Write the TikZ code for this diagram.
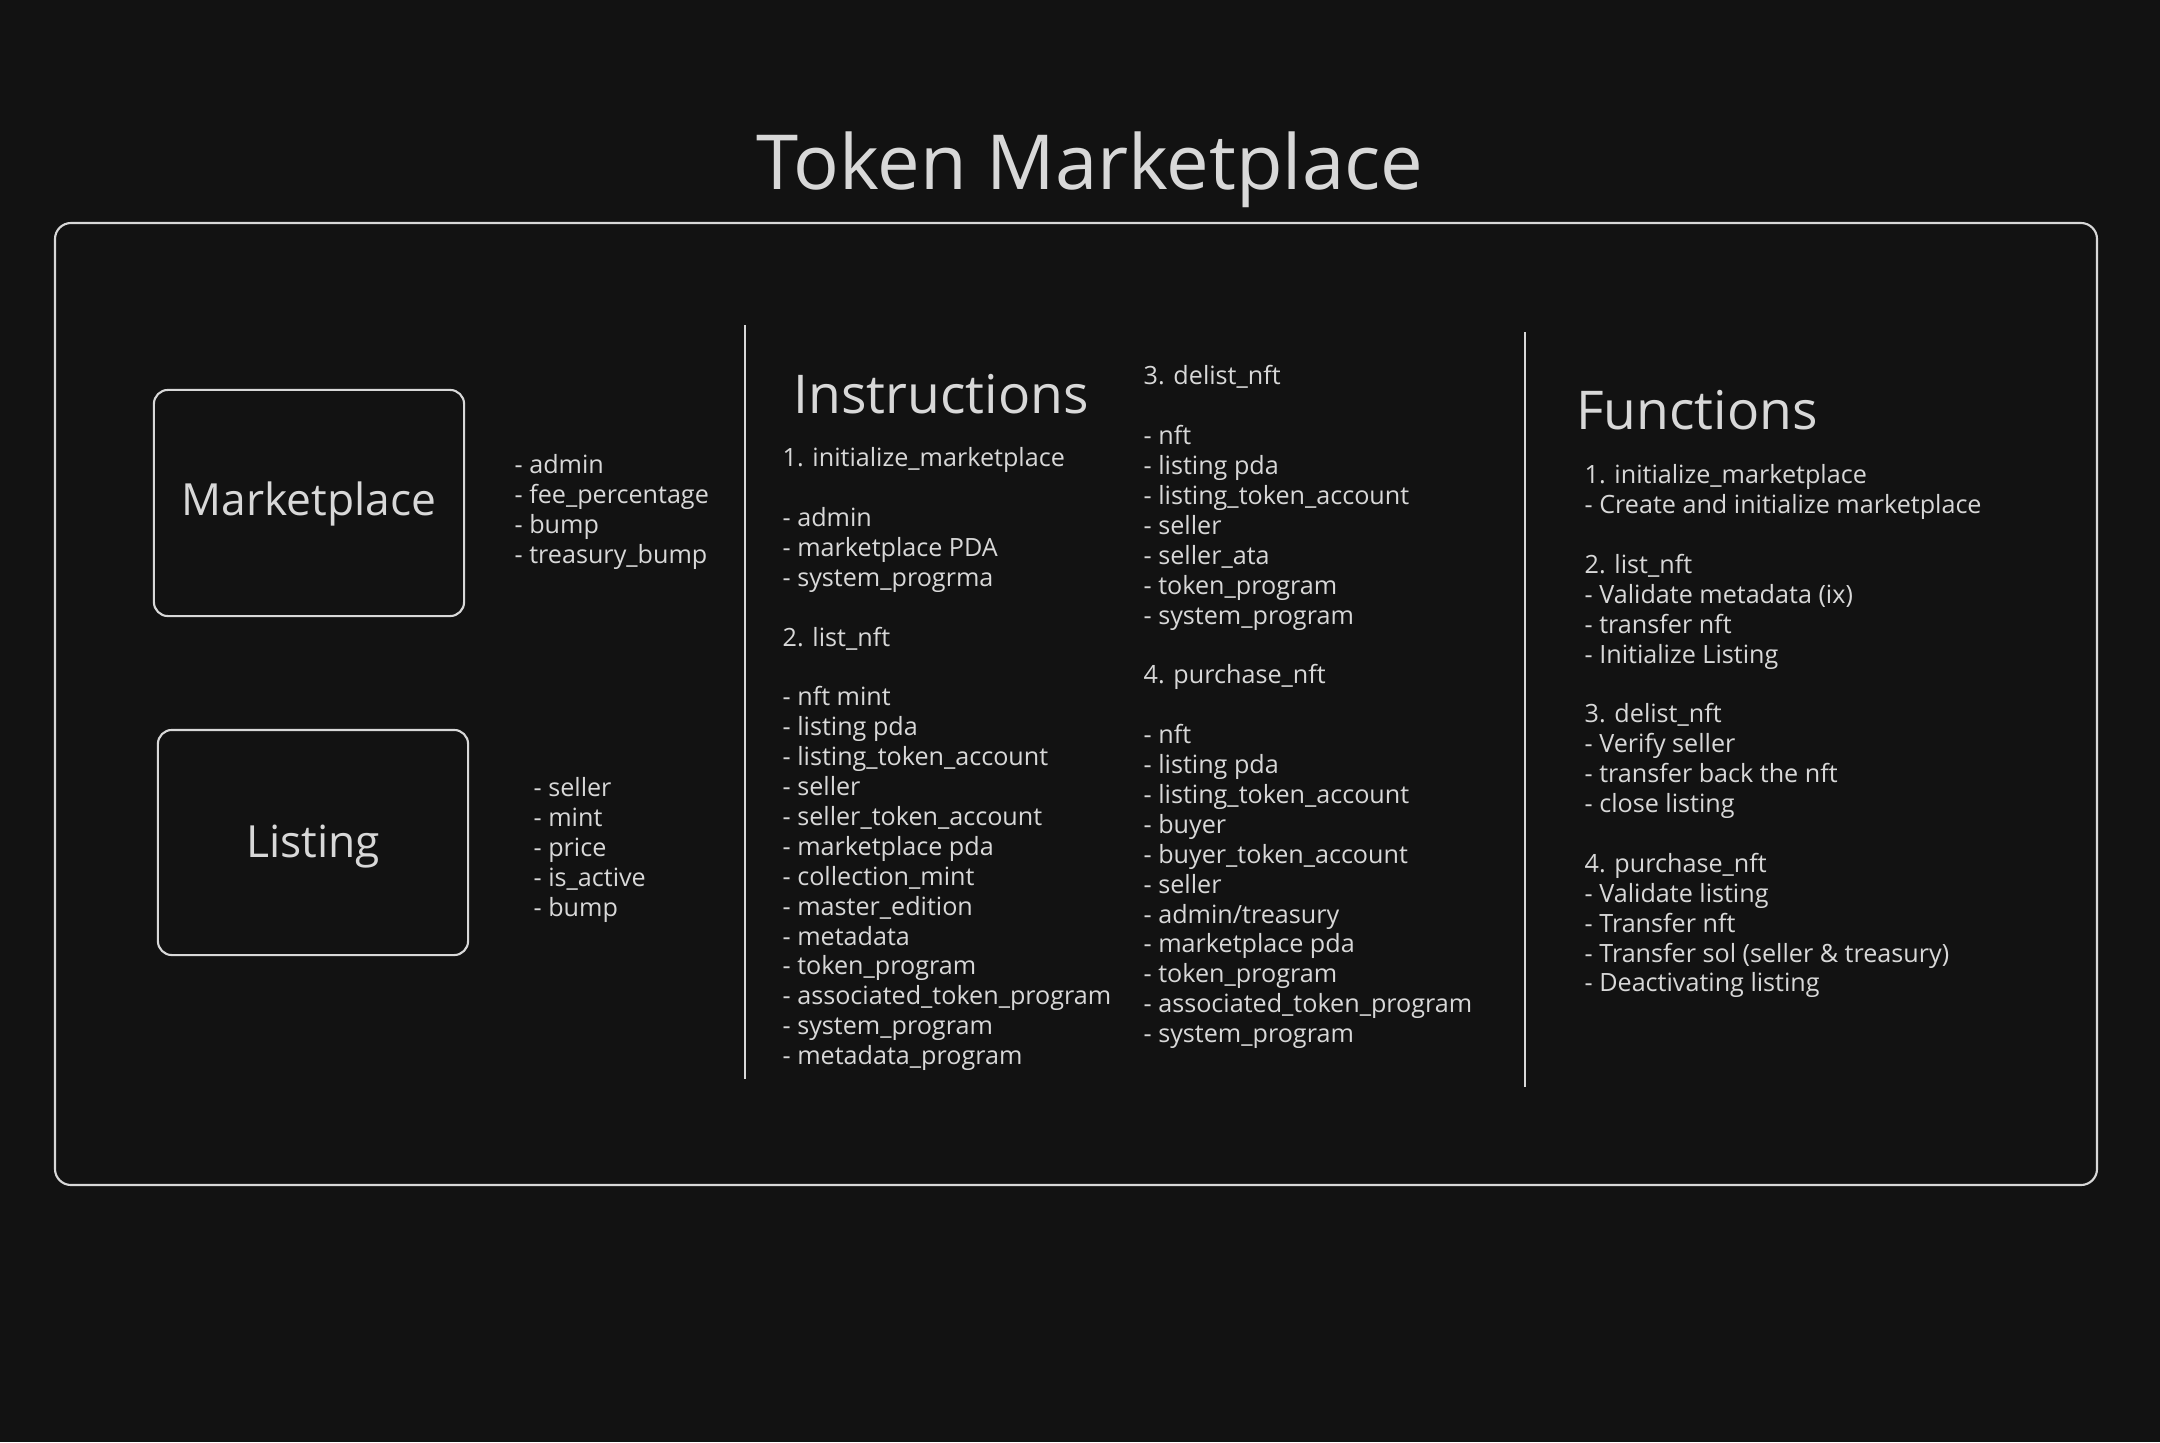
\documentclass[tikz,border=0pt]{standalone}
\usepackage{fontspec}
\setmainfont{Open Sans}
\definecolor{bg}{HTML}{121212}
\definecolor{ink}{HTML}{D8D8D8}
\begin{document}
\begin{tikzpicture}[x=0.01cm,y=-0.01cm,
  stroke/.style={draw=ink,line width=0.6pt},
  body/.style={text=ink,anchor=north west,inner sep=0pt,align=left,font=\fontsize{7.15}{8.5}\selectfont},
  header/.style={text=ink,inner sep=0pt,font=\fontsize{15.2}{17}\selectfont},
  boxlabel/.style={text=ink,inner sep=0pt,font=\fontsize{12.6}{14}\selectfont},
  acct/.style={stroke,rounded corners=0.14cm,minimum width=3.10cm,inner sep=0pt}]
\fill[bg] (0,0) rectangle (2160,1442);
\useasboundingbox (0,0) rectangle (2160,1442);
% title
\node[text=ink,inner sep=0pt,font=\fontsize{21.6}{24}\selectfont] (title) at (1090,170) {Token Marketplace};
% outer frame
\draw[stroke,rounded corners=0.16cm] (55,223) rectangle (2097,1185);
% dividers
\draw[stroke] (745,325) -- (745,1079);
\draw[stroke] (1525,332) -- (1525,1087);
% account boxes
\node[acct,minimum height=2.26cm] (mkt) at (309,503) {};
\node[boxlabel] (mktlabel) at (309,504) {Marketplace};
\node[acct,minimum height=2.25cm] (lst) at (313,842.5) {};
\node[boxlabel] (lstlabel) at (313,847) {Listing};
% account fields
\node[body] (mktfields) at (514,454) {- admin\\- fee\_percentage\\- bump\\- treasury\_bump};
\node[body] (lstfields) at (533,777) {- seller\\- mint\\- price\\- is\_active\\- bump};
% instructions
\node[header] (instr) at (941,394) {Instructions};
\node[body] (instrA) at (782,447) {1. initialize\_marketplace\\ \\- admin\\- marketplace PDA\\- system\_progrma\\ \\2. list\_nft\\ \\- nft mint\\- listing pda\\- listing\_token\_account\\- seller\\- seller\_token\_account\\- marketplace pda\\- collection\_mint\\- master\_edition\\- metadata\\- token\_program\\- associated\_token\_program\\- system\_program\\- metadata\_program};
\node[body] (instrB) at (1143,365) {3. delist\_nft\\ \\- nft\\- listing pda\\- listing\_token\_account\\- seller\\- seller\_ata\\- token\_program\\- system\_program\\ \\4. purchase\_nft\\ \\- nft\\- listing pda\\- listing\_token\_account\\- buyer\\- buyer\_token\_account\\- seller\\- admin/treasury\\- marketplace pda\\- token\_program\\- associated\_token\_program\\- system\_program};
% functions
\node[header] (func) at (1697,410) {Functions};
\node[body] (funcs) at (1584,464) {1. initialize\_marketplace\\- Create and initialize marketplace\\ \\2. list\_nft\\- Validate metadata (ix)\\- transfer nft\\- Initialize Listing\\ \\3. delist\_nft\\- Verify seller\\- transfer back the nft\\- close listing\\ \\4. purchase\_nft\\- Validate listing\\- Transfer nft\\- Transfer sol (seller \& treasury)\\- Deactivating listing};
\end{tikzpicture}
\end{document}
